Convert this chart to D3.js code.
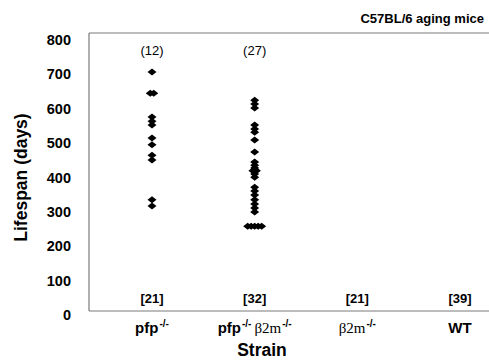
<!DOCTYPE html>
<html>
<head>
<meta charset="utf-8">
<script src="https://cdn.jsdelivr.net/npm/d3@7"></script>
<style>
  html, body { margin: 0; padding: 0; background: #fff; }
  svg { display: block; }
</style>
</head>
<body>
<svg id="chart" width="489" height="362"></svg>
<script>
// ---- data ----
const categories = ["pfp", "pfpb2m", "b2m", "WT"];
const totalCounts = ["[21]", "[32]", "[21]", "[39]"];
const deadCounts = ["(12)", "(27)", "", ""];
const pfpLifespan = [707, 645, 645, 576, 564, 553, 515, 495, 465, 451, 335, 317];
const pfpB2mLifespan = [625, 614, 602, 553, 541, 532, 509, 474, 445, 436, 428, 420, 420, 410, 401,
                        372, 361, 349, 335, 323, 311, 300, 258, 258, 258, 258, 258];
const yTicks = [0, 100, 200, 300, 400, 500, 600, 700, 800];
const title = "C57BL/6 aging mice";

// ---- layout ----
const svg = d3.select("#chart");
const frameLeft = 89, frameRight = 489, frameTop = 33, frameBottom = 311;
const y = d3.scaleLinear().domain([0, 800]).range([315, 40]);
const x = d3.scalePoint().domain(categories).range([152, 460]);
const frameColor = "#7a7a7a";
const sans = "'Liberation Sans', Arial, sans-serif";
const serif = "'Liberation Serif', 'Times New Roman', serif";

// frame
[[frameLeft, frameRight, frameTop, frameTop],
 [frameLeft, frameRight, frameBottom, frameBottom],
 [frameLeft, frameLeft, frameTop, frameBottom]].forEach(([x1, x2, y1, y2]) => {
  svg.append("line").attr("x1", x1).attr("x2", x2).attr("y1", y1).attr("y2", y2)
    .attr("stroke", frameColor).attr("stroke-width", 1.2);
});

// y tick labels
svg.append("g").selectAll("text").data(yTicks).join("text")
  .attr("x", 71).attr("y", d => y(d))
  .attr("text-anchor", "end").attr("dominant-baseline", "central")
  .attr("font-family", sans).attr("font-weight", "bold").attr("font-size", 14.5)
  .text(d => d);

// y title
svg.append("text")
  .attr("transform", `translate(21,${(40 + 315) / 2}) rotate(-90)`)
  .attr("text-anchor", "middle").attr("dominant-baseline", "central")
  .attr("font-family", sans).attr("font-weight", "bold").attr("font-size", 17.5)
  .text("Lifespan (days)");

// chart title
svg.append("text").attr("x", 484).attr("y", 23).attr("text-anchor", "end")
  .attr("font-family", sans).attr("font-weight", "bold").attr("font-size", 13)
  .text(title);

// counts
svg.append("g").selectAll("text").data(categories).join("text")
  .attr("x", d => x(d)).attr("y", 303).attr("text-anchor", "middle")
  .attr("font-family", sans).attr("font-weight", "bold").attr("font-size", 13)
  .text((d, i) => totalCounts[i]);
svg.append("g").selectAll("text").data(categories).join("text")
  .attr("x", d => x(d)).attr("y", 55).attr("text-anchor", "middle")
  .attr("font-family", sans).attr("font-size", 13)
  .text((d, i) => deadCounts[i]);

// category labels
const labY = 333;
function addLabel(cat, parts) {
  const t = svg.append("text").attr("x", x(cat)).attr("y", labY).attr("text-anchor", "middle")
    .attr("font-size", 15);
  parts.forEach(p => {
    const ts = t.append("tspan").text(p.t)
      .attr("font-family", p.serif ? serif : sans)
      .attr("font-weight", p.serif ? "normal" : "bold");
    if (p.sup) ts.attr("font-size", 10).attr("dy", -6);
    if (p.down) ts.attr("dy", 6);
    if (p.dx) ts.attr("dx", p.dx);
  });
}
addLabel("pfp", [{t: "pfp"}, {t: "-/-", sup: true, dx: 1}]);
addLabel("pfpb2m", [{t: "pfp"}, {t: "-/-", sup: true, dx: 1}, {t: "β2m", serif: true, down: true, dx: 3}, {t: "-/-", sup: true, dx: 1}]);
addLabel("b2m", [{t: "β2m", serif: true}, {t: "-/-", sup: true, dx: 1}]);
addLabel("WT", [{t: "WT"}]);

// x title
svg.append("text").attr("x", 262).attr("y", 356).attr("text-anchor", "middle")
  .attr("font-family", sans).attr("font-weight", "bold").attr("font-size", 17.5)
  .text("Strain");

// points with small dodge for identical values
const diamond = "M0,-3.5L4.5,0L0,3.5L-4.5,0Z";
function dodge(values) {
  const counts = d3.rollup(values, v => v.length, d => d);
  const seen = new Map();
  return values.map(v => {
    const k = counts.get(v);
    const i = seen.get(v) || 0;
    seen.set(v, i + 1);
    return { v, off: (i - (k - 1) / 2) * 3.5 };
  });
}
[["pfp", pfpLifespan], ["pfpb2m", pfpB2mLifespan]].forEach(([cat, vals]) => {
  svg.append("g").selectAll("path").data(dodge(vals)).join("path")
    .attr("d", diamond)
    .attr("transform", d => `translate(${x(cat) + d.off},${y(d.v)})`)
    .attr("fill", "#000");
});
</script>
</body>
</html>
